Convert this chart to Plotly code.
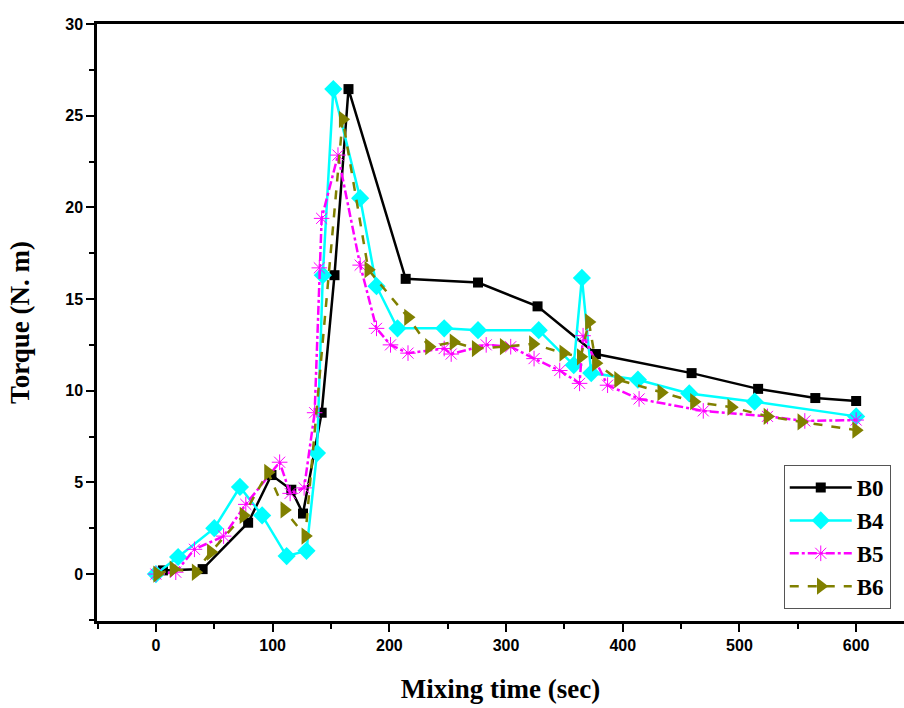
import plotly.graph_objects as go

# B0
b0_x = [0, 6, 40, 79, 99, 116, 126, 142, 153, 165, 214, 276, 327, 377, 459, 516, 565, 600]
b0_y = [0, 0.2, 0.27, 2.8, 5.4, 4.6, 3.3, 8.8, 16.3, 26.45, 16.1, 15.9, 14.6, 12.0, 10.96, 10.1, 9.6, 9.44]
# B4
b4_x = [0, 19, 50, 72, 91, 112, 129, 138, 143, 152, 175, 189, 207, 247, 276, 328, 358, 365, 373, 413, 457, 513, 600]
b4_y = [0, 0.93, 2.5, 4.75, 3.2, 0.98, 1.27, 6.6, 16.3, 26.45, 20.5, 15.7, 13.4, 13.4, 13.3, 13.3, 11.4, 16.15, 10.96, 10.6, 9.85, 9.4, 8.6]
# B5
b5_x = [0, 17, 33, 58, 77, 106, 115, 127, 136, 140, 142, 156, 175, 189, 201, 216, 247, 253, 283, 304, 324, 346, 363, 366, 387, 414, 469, 524, 556, 600]
b5_y = [0, 0.1, 1.35, 2.07, 3.8, 6.1, 4.4, 4.7, 8.8, 16.7, 19.4, 22.85, 16.85, 13.4, 12.5, 12.05, 12.3, 12.0, 12.5, 12.4, 11.75, 11.1, 10.4, 13.0, 10.3, 9.55, 8.9, 8.6, 8.35, 8.4]
# B6
b6_x = [1, 15, 34, 47, 75, 96, 110, 128, 160, 182, 216, 234, 255, 274, 298, 323, 349, 364, 371, 377, 396, 433, 461, 493, 524, 553, 600]
b6_y = [0, 0.27, 0.1, 1.2, 3.2, 5.55, 3.5, 2.07, 24.8, 16.6, 14.0, 12.4, 12.65, 12.3, 12.4, 12.55, 12.05, 11.85, 13.75, 11.5, 10.6, 9.9, 9.4, 9.1, 8.6, 8.3, 7.85]

x_ticks = [0, 100, 200, 300, 400, 500, 600]
y_ticks = [0, 5, 10, 15, 20, 25, 30]

fig = go.Figure()
fig.add_trace(go.Scatter(x=b0_x, y=b0_y, name="B0", mode="lines+markers",
                         line=dict(color="black", width=2.5),
                         marker=dict(symbol="square", size=10, color="black")))
fig.add_trace(go.Scatter(x=b4_x, y=b4_y, name="B4", mode="lines+markers",
                         line=dict(color="#00FFFF", width=2.5),
                         marker=dict(symbol="diamond", size=14, color="#00FFFF")))
fig.add_trace(go.Scatter(x=b5_x, y=b5_y, name="B5", mode="lines+markers",
                         line=dict(color="#FF00FF", width=2.5, dash="dashdot"),
                         marker=dict(symbol="asterisk-open", size=13, color="#FF00FF",
                                     line=dict(color="#FF00FF", width=1))))
fig.add_trace(go.Scatter(x=b6_x, y=b6_y, name="B6", mode="lines+markers",
                         line=dict(color="#808000", width=2.5, dash="dash"),
                         marker=dict(symbol="triangle-right", size=15, color="#808000")))

tickfont = dict(family="Liberation Sans", size=16, color="black", weight="bold")
titlefont = dict(family="Liberation Serif", size=27, color="black", weight="bold")

fig.update_layout(
    width=904, height=708,
    margin=dict(l=97, r=0, t=24, b=87),
    plot_bgcolor="white", paper_bgcolor="white",
    showlegend=True,
    legend=dict(x=0.851, y=0.02, xanchor="left", yanchor="bottom",
                bordercolor="#555555", borderwidth=1, bgcolor="white",
                font=dict(family="Liberation Serif", size=23, color="black", weight="bold"),
                tracegroupgap=0, itemwidth=62),
    xaxis=dict(range=[-50.5, 641], tickvals=x_ticks, showgrid=False, zeroline=False,
               showline=True, linecolor="black", linewidth=2.5, mirror=True,
               ticks="outside", ticklen=8, tickwidth=2, tickcolor="black",
               minor=dict(dtick=50, tick0=0, ticks="outside", ticklen=5, tickwidth=2, tickcolor="black"),
               tickfont=tickfont,
               title=dict(text="Mixing time (sec)", font=titlefont, standoff=27)),
    yaxis=dict(range=[-2.56, 30], tickvals=y_ticks, showgrid=False, zeroline=False,
               showline=True, linecolor="black", linewidth=2.5,
               ticks="outside", ticklen=8, tickwidth=2, tickcolor="black",
               minor=dict(dtick=2.5, tick0=0, ticks="outside", ticklen=5, tickwidth=2, tickcolor="black"),
               tickfont=tickfont,
               title=dict(text="Torque (N. m)", font=titlefont, standoff=28)),
)

fig.write_html("out.html")
